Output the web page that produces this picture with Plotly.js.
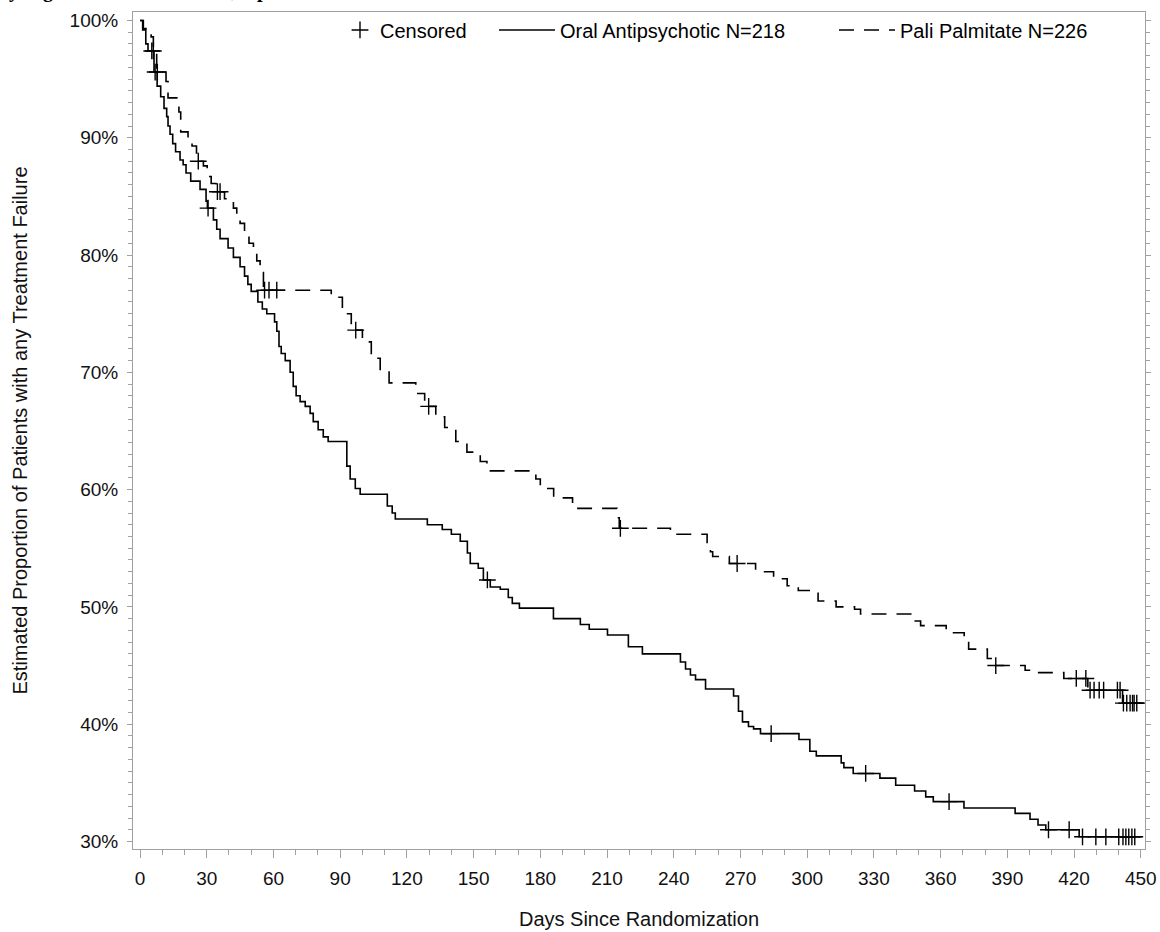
<!DOCTYPE html>
<html>
<head>
<meta charset="utf-8">
<script src="https://cdn.plot.ly/plotly-3.0.1.min.js"></script>
<style>
  html, body { margin: 0; padding: 0; background: #ffffff; }
  #chart { width: 1160px; height: 932px; }
</style>
</head>
<body>
<div id="chart"></div>
<script>
// ---------- data (days since randomization, estimated % with any treatment failure) ----------
var oralName = "Oral Antipsychotic N=218";
var paliName = "Pali Palmitate N=226";
var censorName = "Censored";

var oralDays = [0, 1.2, 2.6, 3.6, 6.3, 7.7, 9.3, 10.8, 12.0, 12.6, 13.5, 14.7, 16.0, 18.0, 19.4, 20.7, 22.8, 27.0, 29.7, 30.3, 33.0, 34.5, 36.0, 39.6, 42.0, 45.0, 47.0, 48.5, 50.0, 53.0, 55.0, 57.0, 60.5, 61.5, 62.5, 63.5, 65.3, 67.5, 68.9, 70.2, 72.0, 74.3, 76.5, 77.9, 80.1, 82.4, 84.6, 93.0, 94.5, 96.8, 99.0, 111.2, 113.4, 114.8, 129.2, 135.9, 140.0, 144.0, 147.2, 148.5, 152.1, 154.4, 157.5, 162.0, 165.6, 167.4, 170.6, 185.9, 198.0, 202.0, 210.2, 219.6, 225.9, 243.0, 245.3, 247.5, 249.8, 254.3, 266.9, 269.1, 270.9, 273.6, 275.9, 279.0, 296.3, 301.2, 304.1, 315.3, 316.5, 320.7, 332.7, 339.8, 348.3, 353.3, 356.7, 370.5, 393.5, 400.2, 403.8, 407.3, 422.3, 450.5];
var oralPct  = [100, 99.2, 98.0, 97.4, 95.6, 94.4, 93.5, 92.5, 91.8, 91.0, 90.3, 89.5, 88.8, 88.1, 87.7, 87.0, 86.3, 85.6, 84.6, 84.0, 83.0, 82.2, 81.4, 80.6, 79.8, 79.0, 78.2, 77.5, 76.9, 76.0, 75.4, 75.0, 74.3, 73.5, 72.2, 71.6, 71.0, 70.0, 68.8, 68.0, 67.5, 67.1, 66.5, 65.8, 65.1, 64.5, 64.1, 62.0, 60.9, 60.1, 59.6, 58.6, 58.0, 57.5, 57.0, 56.6, 56.2, 55.6, 54.6, 53.7, 53.3, 52.3, 51.7, 51.5, 50.8, 50.3, 49.9, 49.0, 48.5, 48.1, 47.6, 46.6, 46.0, 45.3, 44.7, 44.2, 43.8, 43.0, 42.4, 41.1, 40.2, 39.8, 39.6, 39.2, 38.7, 37.7, 37.3, 36.7, 36.3, 35.8, 35.4, 34.8, 34.3, 33.8, 33.4, 32.85, 32.4, 31.9, 31.4, 31.0, 30.4, 30.4];

var paliDays = [0, 1.5, 5.0, 6.0, 7.5, 11.7, 12.6, 17.5, 18.3, 21.6, 23.4, 25.4, 26.0, 28.5, 30.2, 32.0, 34.2, 38.0, 42.0, 43.5, 45.0, 47.0, 49.0, 51.0, 52.5, 54.0, 55.5, 86.0, 91.0, 95.0, 100.0, 104.0, 108.0, 112.0, 124.0, 128.0, 133.0, 137.0, 142.0, 147.0, 153.0, 156.0, 178.0, 180.0, 186.0, 194.5, 196.0, 214.5, 215.5, 238.5, 255.0, 256.5, 257.5, 265.0, 276.8, 284.9, 291.0, 296.0, 304.9, 313.0, 321.3, 324.0, 347.7, 351.0, 362.5, 370.6, 372.6, 381.0, 383.4, 398.0, 401.4, 415.4, 426.2, 441.8, 451.4];
var paliPct  = [100, 99.3, 98.6, 97.4, 95.6, 94.8, 93.4, 92.2, 90.5, 89.9, 89.3, 88.7, 88.0, 87.6, 86.7, 86.1, 85.4, 84.8, 84.0, 83.5, 82.7, 82.0, 81.0, 80.5, 79.5, 78.5, 77.0, 76.4, 75.0, 73.6, 72.6, 71.2, 70.1, 69.1, 68.2, 67.1, 66.2, 65.3, 64.1, 63.2, 62.4, 61.6, 60.9, 60.1, 59.3, 58.7, 58.4, 57.6, 56.7, 56.2, 55.3, 54.7, 54.3, 53.7, 53.0, 52.4, 51.8, 51.4, 50.5, 50.0, 49.8, 49.4, 48.8, 48.4, 47.8, 47.2, 46.4, 45.6, 45.0, 44.6, 44.4, 43.9, 42.9, 41.8, 41.8];

var oralCensorDays = [5.3, 6.0, 6.8, 30.6, 156.2, 283.8, 326.3, 363.8, 408.5, 417.8, 423.8, 429.8, 434.3, 440.1, 442.0, 443.3, 444.6, 446.0, 447.3];
var oralCensorPct  = [97.4, 97.4, 95.6, 84.0, 52.3, 39.2, 35.8, 33.4, 31.0, 31.0, 30.4, 30.4, 30.4, 30.4, 30.4, 30.4, 30.4, 30.4, 30.4];

var paliCensorDays = [7.8, 26.2, 34.8, 36.0, 56.0, 58.0, 61.5, 97.0, 129.8, 216.0, 268.5, 384.8, 421.0, 425.3, 427.2, 429.0, 431.3, 433.3, 439.5, 440.7, 442.2, 443.7, 445.2, 446.3, 447.0, 448.2];
var paliCensorPct  = [95.6, 88.0, 85.4, 85.4, 77.0, 77.0, 77.0, 73.6, 67.1, 56.7, 53.7, 45.0, 43.9, 43.9, 42.9, 42.9, 42.9, 42.9, 42.9, 42.9, 41.8, 41.8, 41.8, 41.8, 41.8, 41.8];

var xTitle = "Days Since Randomization";
var yTitle = "Estimated Proportion of Patients with any Treatment Failure";
var topTitle = "by Eight Treatment Failure, Open-Label Phase";

// ---------- traces ----------
var FONT = "Liberation Sans, Arial, sans-serif";
var censorX = oralCensorDays.concat(paliCensorDays);
var censorY = oralCensorPct.concat(paliCensorPct);

var traces = [
  {
    type: "scatter", mode: "markers", name: censorName,
    x: censorX, y: censorY, legend: "legend",
    marker: { symbol: "cross-thin-open", size: 12, color: "#000", line: { color: "#000", width: 1.4 } },
    hoverinfo: "skip"
  },
  {
    type: "scatter", mode: "lines", name: oralName,
    x: oralDays, y: oralPct, legend: "legend2",
    line: { shape: "hv", color: "#000", width: 1.6 }
  },
  {
    type: "scatter", mode: "lines", name: paliName,
    x: paliDays, y: paliPct, legend: "legend3",
    line: { shape: "hv", color: "#000", width: 1.6, dash: "15px,10px" }
  }
];

var plotL = 133, plotR = 1145, plotW = plotR - plotL;
function px2paper(px) { return (px - plotL) / plotW; }
var legendY = 1 - (28 - 10) / 839.5;

var legendBase = {
  orientation: "h", xanchor: "left", yanchor: "middle", y: legendY,
  bgcolor: "rgba(0,0,0,0)", borderwidth: 0,
  font: { family: FONT, size: 20, color: "#000" }
};

var layout = {
  width: 1160, height: 932,
  paper_bgcolor: "#fff", plot_bgcolor: "#fff",
  margin: { l: plotL, r: 1160 - plotR, t: 10, b: 82.5, pad: 0 },
  showlegend: true,
  legend:  Object.assign({}, legendBase, { x: px2paper(340), itemwidth: 30 }),
  legend2: Object.assign({}, legendBase, { x: px2paper(494), itemwidth: 56 }),
  legend3: Object.assign({}, legendBase, { x: px2paper(834), itemwidth: 56 }),
  xaxis: {
    range: [-3.15, 451.9], tickmode: "linear", tick0: 0, dtick: 30,
    ticks: "outside", ticklen: 8, tickwidth: 1, tickcolor: "#a0a0a0",
    minor: { dtick: 10, tick0: 0, ticks: "outside", ticklen: 5, tickwidth: 1, tickcolor: "#a0a0a0", showgrid: false },
    showline: true, linecolor: "#a0a0a0", linewidth: 1, mirror: true,
    showgrid: false, zeroline: false, ticklabelstandoff: 4,
    tickfont: { family: FONT, size: 19, color: "#111" },
    title: { text: xTitle, font: { family: FONT, size: 20, color: "#111" }, standoff: 24 }
  },
  yaxis: {
    range: [29.36, 100.72], tickmode: "linear", tick0: 30, dtick: 10, ticksuffix: "%",
    ticks: "outside", ticklen: 5, tickwidth: 1, tickcolor: "#a0a0a0",
    minor: { dtick: 1, tick0: 30, ticks: "outside", ticklen: 4, tickwidth: 1, tickcolor: "#a0a0a0", showgrid: false },
    showline: true, linecolor: "#a0a0a0", linewidth: 1, mirror: "ticks",
    showgrid: false, zeroline: false, ticklabelstandoff: 5,
    tickfont: { family: FONT, size: 19, color: "#111" },
    title: { text: yTitle, font: { family: FONT, size: 20, color: "#111" }, standoff: 36 }
  },
  annotations: [
    {
      text: topTitle, xref: "paper", yref: "paper",
      x: px2paper(-4), y: 1 + (10 - (-12)) / 839.5, xanchor: "left", yanchor: "middle",
      showarrow: false,
      font: { family: "Liberation Serif, Times New Roman, serif", size: 20, color: "#000", weight: "bold" }
    }
  ]
};

Plotly.newPlot("chart", traces, layout, { displayModeBar: false, staticPlot: true });
</script>
</body>
</html>
